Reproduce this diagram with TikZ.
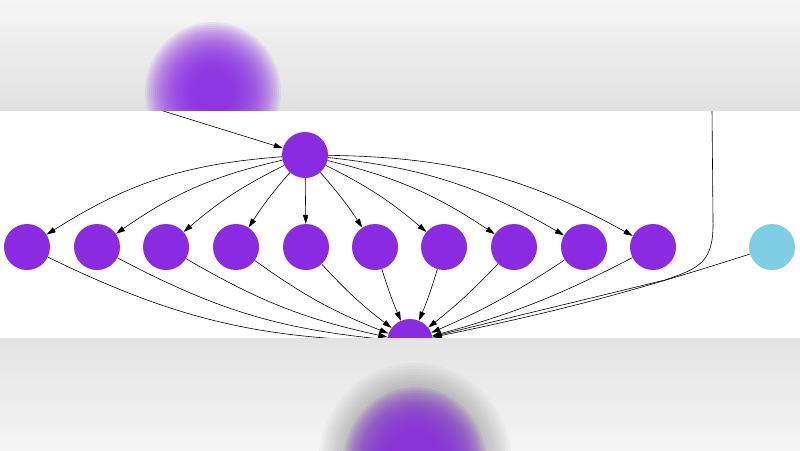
\documentclass[tikz,border=0pt]{standalone}
\usetikzlibrary{arrows.meta}
\definecolor{nodepurple}{HTML}{8A2BE2}
\definecolor{nodeblue}{HTML}{80CDE6}
\definecolor{bandgrey}{HTML}{EAEAEA}
\definecolor{bandlight}{HTML}{F5F5F5}
\definecolor{halo}{HTML}{505050}
\tikzset{
  vert/.style={circle, fill=nodepurple, minimum size=46pt, inner sep=0pt},
  vertblue/.style={circle, fill=nodeblue, minimum size=46pt, inner sep=0pt},
  edge/.style={draw=black, line width=0.6pt, -{Triangle[length=9pt,width=5.5pt]}},
  blurlayer/.style={fill=#1, fill opacity=0.09, draw=none},
  halolayer/.style={fill=#1, fill opacity=0.04, draw=none},
}
\begin{document}
\begin{tikzpicture}[x=1pt,y=-1pt]
\useasboundingbox (0,0) rectangle (800,450);
\fill[white] (0,0) rectangle (800,450);
% graph strip
\node[vert] (top) at (305,155) {};
\foreach \i/\x in {1/27,2/97,3/166,4/236,5/306,6/375,7/444,8/514,9/584,10/653}{
  \node[vert] (r\i) at (\x,247) {};
}
\node[vertblue] (blue) at (772,247) {};
\node[vert] (bot) at (410,342) {};
\coordinate (inTL) at (160,110);
\coordinate (inTR) at (712,110);
% incoming to top
\draw[edge] (inTL) -- (top);
% top to row
\draw[edge] (top) to[bend right=14] (r1);
\draw[edge] (top) to[bend right=11] (r2);
\draw[edge] (top) to[bend right=7] (r3);
\draw[edge] (top) to[bend right=4] (r4);
\draw[edge] (top) -- (r5);
\draw[edge] (top) to[bend left=4] (r6);
\draw[edge] (top) to[bend left=7] (r7);
\draw[edge] (top) to[bend left=10] (r8);
\draw[edge] (top) to[bend left=12] (r9);
\draw[edge] (top) to[bend left=14] (r10);
% row to bottom
\draw[edge] (r1) to[bend right=12] (bot);
\draw[edge] (r2) to[bend right=11] (bot);
\draw[edge] (r3) to[bend right=9] (bot);
\draw[edge] (r4) to[bend right=7] (bot);
\draw[edge] (r5) to[bend right=5] (bot);
\draw[edge] (r6) to[bend right=3] (bot);
\draw[edge] (r7) to[bend left=3] (bot);
\draw[edge] (r8) to[bend left=4] (bot);
\draw[edge] (r9) to[bend left=5] (bot);
\draw[edge] (r10) to[bend left=6] (bot);
\draw[edge] (inTR) -- (713,220) .. controls (714,262) and (700,268) .. (665,280) -- (bot);
\draw[edge] (blue) to[bend left=3] (bot);
% blurred top band
\begin{scope}
\clip (0,0) rectangle (800,110);
\shade[top color=bandlight, bottom color=bandgrey!96!black] (0,0) rectangle (800,110);
\foreach \k in {0,...,3}{
  \fill[blurlayer=white] (0,{10+6*\k}) rectangle (800,0);
}
\foreach \k in {24,23,...,0}{
  \fill[blurlayer=nodepurple] (213,92) ellipse ({20+2*\k} and {22+2*\k});
}
\end{scope}
% blurred bottom band
\begin{scope}
\clip (0,338) rectangle (800,450);
\shade[top color=bandgrey!97!black, bottom color=bandlight] (0,338) rectangle (800,450);
\foreach \k in {14,13,...,0}{
  \fill[halolayer=halo] (415,465) ellipse ({55+3*\k} and {60+3*\k});
}
\foreach \k in {22,21,...,0}{
  \fill[blurlayer=nodepurple] (415,465) ellipse ({28+2*\k} and {34+2*\k});
}
\end{scope}
\end{tikzpicture}
\end{document}
